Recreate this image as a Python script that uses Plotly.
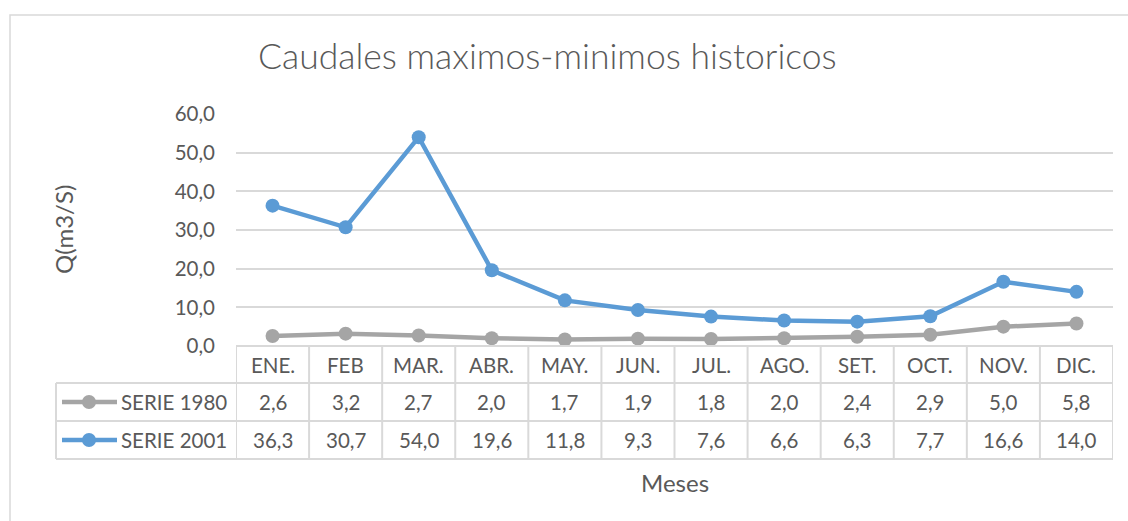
import plotly.graph_objects as go

months = ["ENE.", "FEB", "MAR.", "ABR.", "MAY.", "JUN.", "JUL.", "AGO.", "SET.", "OCT.", "NOV.", "DIC."]
serie_1980 = [2.6, 3.2, 2.7, 2.0, 1.7, 1.9, 1.8, 2.0, 2.4, 2.9, 5.0, 5.8]
serie_2001 = [36.3, 30.7, 54.0, 19.6, 11.8, 9.3, 7.6, 6.6, 6.3, 7.7, 16.6, 14.0]
series_names = ["SERIE 1980", "SERIE 2001"]
y_ticks = [0, 10, 20, 30, 40, 50, 60]

W, H = 1128, 521
GRAY = "#a5a5a5"
BLUE = "#5b9bd5"
TXT = "#595959"
GRID = "#d9d9d9"
FONT = "Lato"

def px_x(x):
    return x / W

def px_y(y):
    return 1 - y / H

plot_left, plot_right = 236, 1113
plot_top, plot_bottom = 114, 346
row_edges = [346, 383, 421, 459]
table_left = 56

fig = go.Figure()
xs = list(range(len(months)))
for name, vals, col in [(series_names[0], serie_1980, GRAY), (series_names[1], serie_2001, BLUE)]:
    fig.add_trace(go.Scatter(x=xs, y=vals, mode="lines+markers", name=name,
                             line=dict(color=col, width=4.5),
                             marker=dict(color=col, size=14), showlegend=False, hoverinfo="skip"))

fmt = lambda v: f"{v:.1f}".replace(".", ",")

shapes = []
annotations = []
# outer chart border
shapes.append(dict(type="rect", xref="paper", yref="paper", x0=px_x(10), x1=px_x(1140), y0=px_y(540), y1=px_y(15),
                   line=dict(color=GRID, width=1.5)))
# table horizontal lines
for i, ry in enumerate(row_edges):
    x0 = plot_left if i == 0 else table_left
    shapes.append(dict(type="line", xref="paper", yref="paper", x0=px_x(x0), x1=px_x(plot_right),
                       y0=px_y(ry), y1=px_y(ry), line=dict(color=GRID, width=2)))
# vertical lines in table
for i in range(len(months) + 1):
    shapes.append(dict(type="line", xref="x", yref="paper", x0=i - 0.5, x1=i - 0.5,
                       y0=px_y(row_edges[-1]), y1=px_y(row_edges[0]), line=dict(color=GRID, width=2)))
shapes.append(dict(type="line", xref="paper", yref="paper", x0=px_x(table_left), x1=px_x(table_left),
                   y0=px_y(row_edges[-1]), y1=px_y(row_edges[1]), line=dict(color=GRID, width=2)))

TS = 20.5
for i, m in enumerate(months):
    annotations.append(dict(x=i, xref="x", y=px_y((row_edges[0] + row_edges[1]) / 2), yref="paper",
                            yanchor="middle", text=m, showarrow=False, font=dict(family=FONT, size=TS, color=TXT)))
for r, vals in enumerate([serie_1980, serie_2001]):
    yc = px_y((row_edges[r + 1] + row_edges[r + 2]) / 2)
    for i, v in enumerate(vals):
        annotations.append(dict(x=i, xref="x", y=yc, yref="paper", yanchor="middle", text=fmt(v), showarrow=False,
                                font=dict(family=FONT, size=TS, color=TXT)))
    annotations.append(dict(x=px_x(119), xref="paper", y=yc, yref="paper", text=series_names[r],
                            xanchor="left", yanchor="middle", showarrow=False,
                            font=dict(family=FONT, size=TS, color=TXT)))

for r, col in enumerate([GRAY, BLUE]):
    yc = (row_edges[r + 1] + row_edges[r + 2]) / 2
    shapes.append(dict(type="line", xref="paper", yref="paper", x0=px_x(62), x1=px_x(117),
                       y0=px_y(yc), y1=px_y(yc), line=dict(color=col, width=4.5)))
    shapes.append(dict(type="circle", xref="paper", yref="paper", x0=px_x(82), x1=px_x(96),
                       y0=px_y(yc + 7), y1=px_y(yc - 7), fillcolor=col, line=dict(color=col, width=0)))

annotations.append(dict(x=px_x(547), y=px_y(56), xref="paper", yref="paper", xanchor="center", yanchor="middle",
                        text="Caudales maximos-minimos historicos",
                        showarrow=False, font=dict(family=FONT, size=35.5, color=TXT, weight=300)))
annotations.append(dict(x=px_x(675), y=px_y(482), xref="paper", yref="paper", xanchor="center", yanchor="middle",
                        text="Meses", showarrow=False, font=dict(family=FONT, size=24, color=TXT)))
annotations.append(dict(x=px_x(63), y=px_y(230), xref="paper", yref="paper", xanchor="center", yanchor="middle",
                        text="Q(m3/S)", textangle=-90,
                        showarrow=False, font=dict(family=FONT, size=24, color=TXT)))

fig.update_layout(
    width=W, height=H, margin=dict(l=0, r=0, t=0, b=0, pad=0, autoexpand=False),
    paper_bgcolor="white", plot_bgcolor="white",
    separators=", ", hovermode=False,
    shapes=shapes, annotations=annotations,
    xaxis=dict(domain=[px_x(plot_left), px_x(plot_right)], range=[-0.5, len(months) - 0.5],
               showgrid=False, zeroline=False, showticklabels=False, showline=False, automargin=False),
    yaxis=dict(domain=[px_y(plot_bottom), px_y(plot_top)], range=[0, 60], tickvals=y_ticks,
               tickformat=".1f", showgrid=True, gridcolor=GRID, gridwidth=2, zeroline=False,
               showline=False, ticklabelstandoff=20, automargin=False,
               tickfont=dict(family=FONT, size=TS, color=TXT)),
)
fig.write_html("out.html", config={"displayModeBar": False, "responsive": False},
               post_script="document.body.style.margin='0';document.body.style.overflow='hidden';")
